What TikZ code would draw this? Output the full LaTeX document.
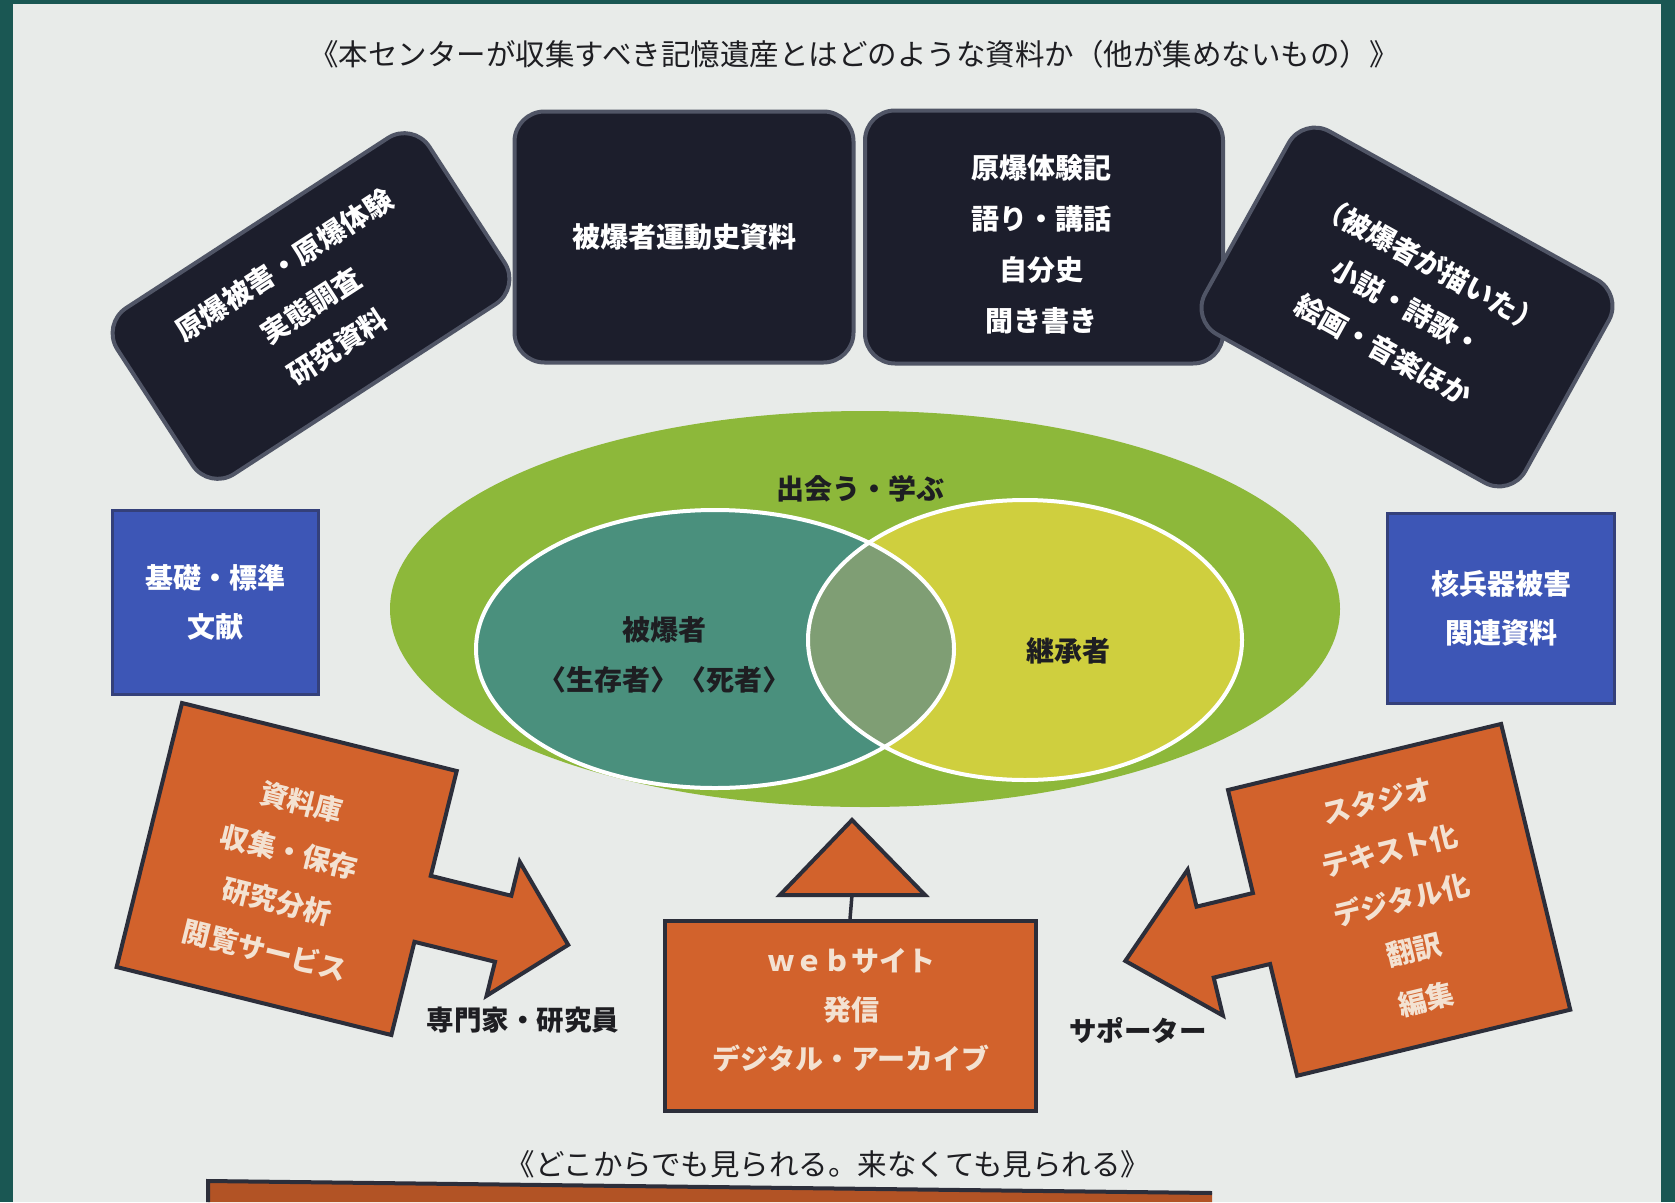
\documentclass[tikz,border=0pt]{standalone}
\usepackage{fontspec}
\newfontfamily\jp{Noto Sans CJK JP}
\definecolor{frameteal}{HTML}{1A5753}
\definecolor{paper}{HTML}{E8EBE9}
\definecolor{darkbox}{HTML}{1C1E2C}
\definecolor{darkedge}{HTML}{505566}
\definecolor{greenell}{HTML}{8DB83A}
\definecolor{tealell}{HTML}{4A907D}
\definecolor{yellowell}{HTML}{CFCF3E}
\definecolor{overlapc}{HTML}{7F9E74}
\definecolor{bluebox}{HTML}{3D56B6}
\definecolor{blueedge}{HTML}{34407A}
\definecolor{orangef}{HTML}{D2622C}
\definecolor{orangeedge}{HTML}{2C2E3A}
\definecolor{creamtxt}{HTML}{F3E2D2}
\definecolor{inktxt}{HTML}{1E1E22}
\begin{document}
\begin{tikzpicture}[x=1pt,y=-1pt,
  dbox/.style={draw=darkedge, line width=4pt, fill=darkbox, rounded corners=30pt,
    text=white, font=\jp\bfseries\fontsize{28}{49}\selectfont, align=center, inner sep=0pt},
  dtext/.style={text=white, font=\jp\bfseries\fontsize{28}{51}\selectfont, align=center, inner sep=0pt},
  bbox/.style={draw=blueedge, line width=3pt, fill=bluebox, text=white,
    font=\jp\bfseries\fontsize{28}{49}\selectfont, align=center, inner sep=0pt},
  oshape/.style={draw=orangeedge, line width=4pt, fill=orangef, line join=miter},
  otext/.style={text=creamtxt, font=\jp\bfseries\fontsize{28}{51}\selectfont, align=center, inner sep=0pt},
  btext/.style={text=inktxt, font=\jp\fontsize{29.5}{34}\selectfont, inner sep=0pt},
  ctext/.style={text=inktxt, font=\jp\bfseries\fontsize{28}{50}\selectfont, align=center, inner sep=0pt}]
\fill[frameteal] (0,0) rectangle (1675,1202);
\useasboundingbox (0,0) rectangle (1675,1202);
\fill[paper] (13,4) rectangle (1661,1202);

% title
\node[btext] (title) at (854,54) {《本センターが収集すべき記憶遺産とはどのような資料か（他が集めないもの）》};

% dark boxes
\node[dbox, minimum width=372, minimum height=198, rotate=33] (b1) at (311,306)
  {原爆被害・原爆体験\\実態調査\\研究資料};
\node[dbox, minimum width=339, minimum height=251] (b2) at (684,237) {被爆者運動史資料};
\node[dbox, minimum width=358, minimum height=253] (b3) at (1044,237) {};
\node[dtext] (b3txt) at (1041,244) {原爆体験記\\語り・講話\\自分史\\聞き書き};
\node[dbox, minimum width=366, minimum height=232, rotate=-29] (b4) at (1407,307)
  {（被爆者が描いた）\\小説・詩歌・\\絵画・音楽ほか};

% ellipses
\fill[greenell] (865,609) ellipse [x radius=475, y radius=198];
\fill[tealell] (715,649) ellipse [x radius=239, y radius=139];
\fill[yellowell] (1025,640) ellipse [x radius=217, y radius=140];
\begin{scope}
  \clip (715,649) ellipse [x radius=239, y radius=139];
  \fill[overlapc] (1025,640) ellipse [x radius=217, y radius=140];
\end{scope}
\draw[white, line width=4pt] (715,649) ellipse [x radius=239, y radius=139];
\draw[white, line width=4pt] (1025,640) ellipse [x radius=217, y radius=140];
\node[ctext] (meet) at (860,489) {出会う・学ぶ};
\node[ctext] (hiba) at (664,630) {被爆者};
\node[ctext] (seishi) at (664,680) {〈生存者〉〈死者〉};
\node[ctext] (keisho) at (1068,651) {継承者};

% blue boxes
\node[bbox, minimum width=206, minimum height=184] (bl) at (215,602) {基礎・標準\\文献};
\node[bbox, minimum width=227, minimum height=190] (br) at (1501,608) {核兵器被害\\関連資料};

% left orange shape
\begin{scope}[shift={(182,703)}, rotate=-13.9]
  \draw[oshape] (0,0) -- (283,0) -- (283,108) -- (366,108) -- (366,73) -- (433,142)
    -- (366,211) -- (366,176) -- (283,176) -- (283,272) -- (0,272) -- cycle;
  \node[otext, rotate=-13.9] (lefttxt) at (140,144) {資料庫\\収集・保存\\研究分析\\閲覧サービス};
\end{scope}

% right orange shape
\begin{scope}[shift={(1228,790)}, rotate=13.6]
  \draw[oshape] (0,0) -- (281,0) -- (281,294) -- (0,294) -- (0,179) -- (-58,179)
    -- (-58,218) -- (-140,142) -- (-58,68) -- (-58,106) -- (0,106) -- cycle;
  \node[otext, rotate=13.6] (righttxt) at (143,148) {スタジオ\\テキスト化\\デジタル化\\翻訳\\編集};
\end{scope}

% web box and triangle
\node[draw=orangeedge, line width=4pt, fill=orangef, minimum width=371, minimum height=190] (web) at (850,1016) {};
\node[otext, font=\jp\bfseries\fontsize{28}{49}\selectfont] (webtxt) at (851,1010)
  {ｗｅｂサイト\\発信\\デジタル・アーカイブ};
\draw[oshape] (852,820) -- (925,895) -- (780,895) -- cycle;
\coordinate (tribase) at (852,895);
\draw[orangeedge, line width=3.5pt] (tribase) -- (web.north);

% labels
\node[btext, font=\jp\bfseries\fontsize{27.5}{32}\selectfont] (expert) at (523,1020) {専門家・研究員};
\node[btext, font=\jp\bfseries\fontsize{27.5}{32}\selectfont] (support) at (1138,1031) {サポーター};
\node[btext] (bottomtxt) at (828,1164) {《どこからでも見られる。来なくても見られる》};

% bottom bar (cut off)
\fill[orangef!85!black] (208,1181) -- (1212,1193) -- (1212,1202) -- (208,1202) -- cycle;
\draw[orangeedge, line width=4pt] (208,1202) -- (208,1181) -- (1212,1193);
\end{tikzpicture}
\end{document}
